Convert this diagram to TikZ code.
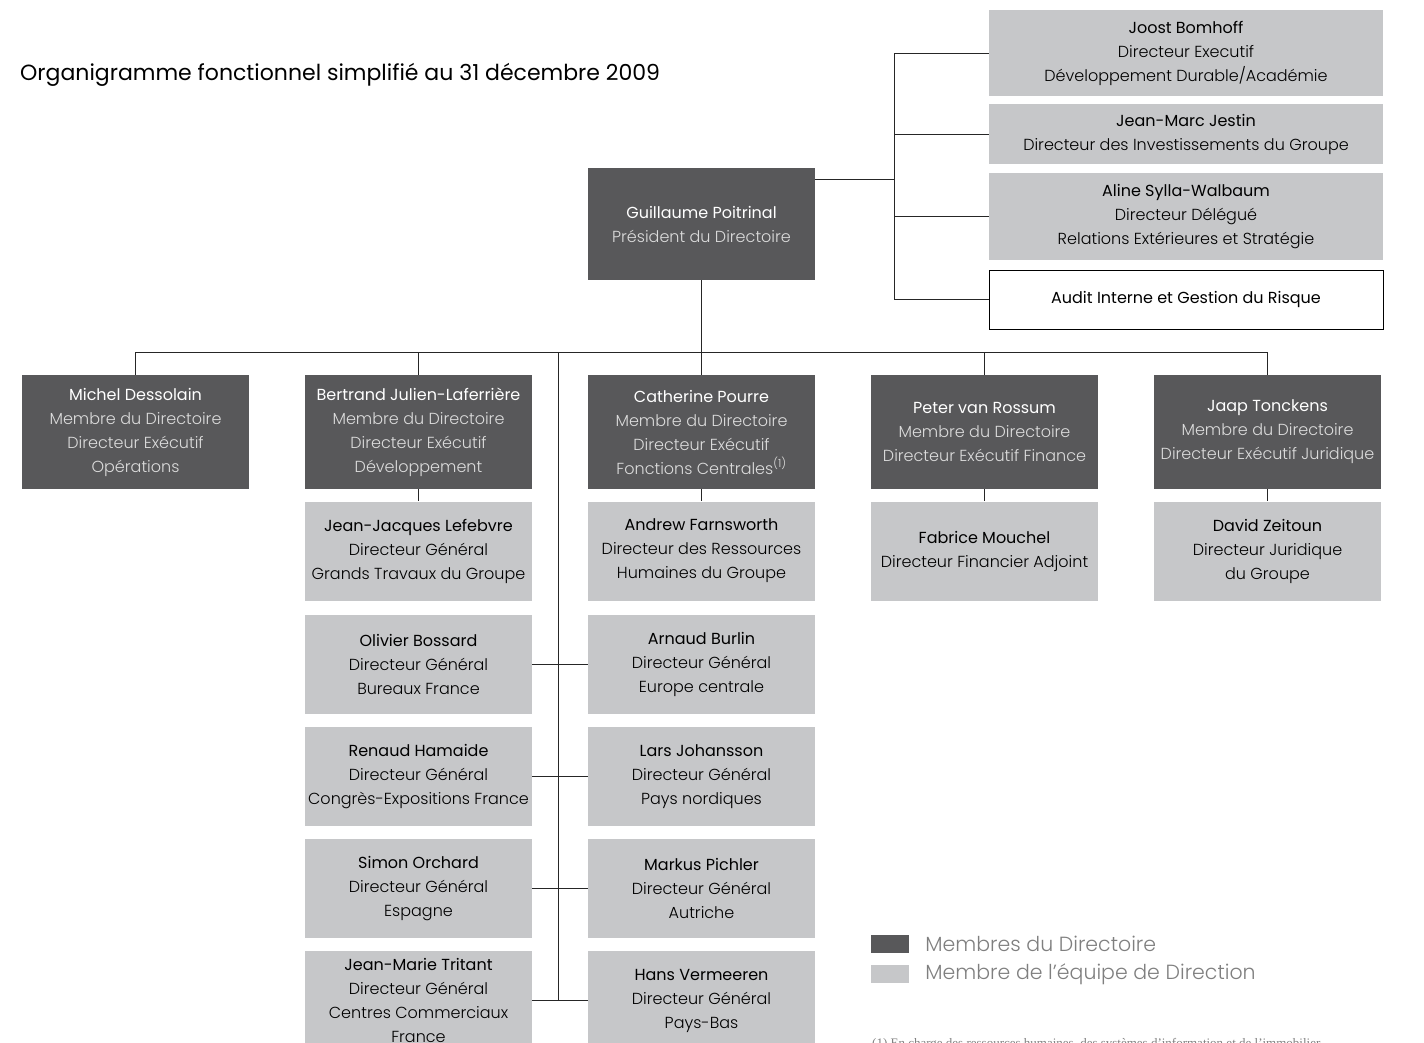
\documentclass[tikz,border=0pt]{standalone}
\usepackage{fontspec}
\usetikzlibrary{positioning}
\setmainfont{Poppins}
\newfontfamily\lite{Poppins Light}
\newfontfamily\footfont{Liberation Serif}
\definecolor{dirgray}{HTML}{58585A}
\definecolor{teamgray}{HTML}{C6C7C9}
\definecolor{rolegray}{HTML}{DCDCDC}
\definecolor{keygray}{HTML}{7F7F7F}

\begin{document}
\begin{tikzpicture}[x=1pt,y=-1pt,
	dirbox/.style={fill=dirgray,text=white,minimum width=227pt,minimum height=114pt,inner sep=0pt,align=center,font=\fontsize{16}{24}\selectfont},
	teambox/.style={fill=teamgray,text=black,minimum width=227pt,minimum height=99pt,inner sep=0pt,align=center,font=\fontsize{16}{24}\selectfont},
	sidebox/.style={teambox,minimum width=394pt},
	link/.style={line width=1pt,black!85}]
	\useasboundingbox (0,0) rectangle (1424,1042);
	\clip (0,0) rectangle (1424,1042);
	
	%TITLE
	\node[anchor=base west,inner sep=0pt,font=\fontsize{22}{24}\selectfont] (title) at (20,80) {Organigramme fonctionnel simplifié au 31 décembre 2009};
	
	%PRESIDENT
	\node[dirbox,minimum height=112pt] (poitrinal) at (701.5,224) {Guillaume Poitrinal\\\lite\color{rolegray}Président du Directoire};
	
	%RIGHT SIDE
	\node[sidebox,minimum height=86pt] (bomhoff) at (1186,53) {Joost Bomhoff\\\lite Directeur Executif\\\lite Développement Durable/Académie};
	\node[sidebox,minimum height=60pt] (jestin) at (1186,134) {Jean-Marc Jestin\\\lite Directeur des Investissements du Groupe};
	\node[sidebox,minimum height=87pt] (sylla) at (1186,216.5) {Aline Sylla-Walbaum\\\lite Directeur Délégué\\\lite Relations Extérieures et Stratégie};
	\node[sidebox,fill=white,draw=black,line width=1pt,minimum height=59pt] (audit) at (1186,299.5) {Audit Interne et Gestion du Risque};
	
	\coordinate (rbus) at (894,179);
	\draw[link] (poitrinal.east |- rbus) -- (rbus);
	\draw[link] (bomhoff.west) -- (bomhoff.west -| rbus) -- (audit.west -| rbus) -- (audit.west);
	\draw[link] (jestin.west) -- (jestin.west -| rbus);
	\draw[link] (sylla.west) -- (sylla.west -| rbus);
	
	%DIRECTOIRE
	\node[dirbox] (dessolain) at (135.5,432) {Michel Dessolain\\\lite\color{rolegray}Membre du Directoire\\\lite\color{rolegray}Directeur Exécutif\\\lite\color{rolegray}Opérations};
	\node[dirbox] (laferriere) at (418.5,432) {Bertrand Julien-Laferrière\\\lite\color{rolegray}Membre du Directoire\\\lite\color{rolegray}Directeur Exécutif\\\lite\color{rolegray}Développement};
	\node[dirbox] (pourre) at (701.5,432) {Catherine Pourre\\\lite\color{rolegray}Membre du Directoire\\\lite\color{rolegray}Directeur Exécutif\\\lite\color{rolegray}Fonctions Centrales\textsuperscript{(1)}};
	\node[dirbox] (rossum) at (984.5,432) {Peter van Rossum\\\lite\color{rolegray}Membre du Directoire\\\lite\color{rolegray}Directeur Exécutif Finance};
	\node[dirbox] (tonckens) at (1267.5,432) {Jaap Tonckens\\\lite\color{rolegray}Membre du Directoire\\\lite\color{rolegray}Directeur Exécutif Juridique};
	
	\coordinate (busL) at (135.5,352);
	\coordinate (busR) at (1267.5,352);
	\draw[link] (busL) -- (busR);
	\draw[link] (poitrinal.south) -- (poitrinal.south |- busL);
	\foreach \n in {dessolain,laferriere,pourre,rossum,tonckens}
	\draw[link] (\n.north) -- (\n.north |- busL);
	
	%EQUIPE - LEFT COLUMN
	\node[teambox] (lefebvre) at (418.5,551) {Jean-Jacques Lefebvre\\\lite Directeur Général\\\lite Grands Travaux du Groupe};
	\node[teambox] (bossard) at (418.5,664.5) {Olivier Bossard\\\lite Directeur Général\\\lite Bureaux France};
	\node[teambox] (hamaide) at (418.5,776.5) {Renaud Hamaide\\\lite Directeur Général\\\lite Congrès-Expositions France};
	\node[teambox] (orchard) at (418.5,888.5) {Simon Orchard\\\lite Directeur Général\\\lite Espagne};
	\node[teambox] (tritant) at (418.5,1000.5) {Jean-Marie Tritant\\\lite Directeur Général\\\lite Centres Commerciaux\\\lite France};
	
	%EQUIPE - RIGHT COLUMN
	\node[teambox] (farnsworth) at (701.5,551) {Andrew Farnsworth\\\lite Directeur des Ressources\\\lite Humaines du Groupe};
	\node[teambox] (burlin) at (701.5,664.5) {Arnaud Burlin\\\lite Directeur Général\\\lite Europe centrale};
	\node[teambox] (johansson) at (701.5,776.5) {Lars Johansson\\\lite Directeur Général\\\lite Pays nordiques};
	\node[teambox] (pichler) at (701.5,888.5) {Markus Pichler\\\lite Directeur Général\\\lite Autriche};
	\node[teambox] (vermeeren) at (701.5,1000.5) {Hans Vermeeren\\\lite Directeur Général\\\lite Pays-Bas};
	
	\node[teambox] (mouchel) at (984.5,551) {Fabrice Mouchel\\\lite Directeur Financier Adjoint};
	\node[teambox] (zeitoun) at (1267.5,551) {David Zeitoun\\\lite Directeur Juridique\\\lite du Groupe};
	
	\draw[link] (laferriere) -- (lefebvre);
	\draw[link] (pourre) -- (farnsworth);
	\draw[link] (rossum) -- (mouchel);
	\draw[link] (tonckens) -- (zeitoun);
	
	%SPINE
	\coordinate (spine) at (558,352);
	\draw[link] (spine) -- (spine |- vermeeren.west);
	\draw[link] (bossard.east) -- (burlin.west);
	\draw[link] (hamaide.east) -- (johansson.west);
	\draw[link] (orchard.east) -- (pichler.west);
	\draw[link] (tritant.east) -- (vermeeren.west);
	
	%LEGEND
	\node[fill=dirgray,minimum width=38pt,minimum height=18pt,inner sep=0pt] (keydir) at (890,944) {};
	\node[fill=teamgray,minimum width=38pt,minimum height=18pt,inner sep=0pt] (keyteam) at (890,974) {};
	\node[right=16pt of keydir,inner sep=0pt,text=keygray,font=\lite\fontsize{20.5}{24}\selectfont] (keydirtxt) {Membres du Directoire};
	\node[right=16pt of keyteam,inner sep=0pt,text=keygray,font=\lite\fontsize{20.5}{24}\selectfont] (keyteamtxt) {Membre de l’équipe de Direction};
	
	%FOOTNOTE
	\node[anchor=base west,inner sep=0pt,text=keygray,font=\footfont\fontsize{13}{14}\selectfont] (footnote) at (872,1047) {(1) En charge des ressources humaines, des systèmes d’information et de l’immobilier};
\end{tikzpicture}
\end{document}
